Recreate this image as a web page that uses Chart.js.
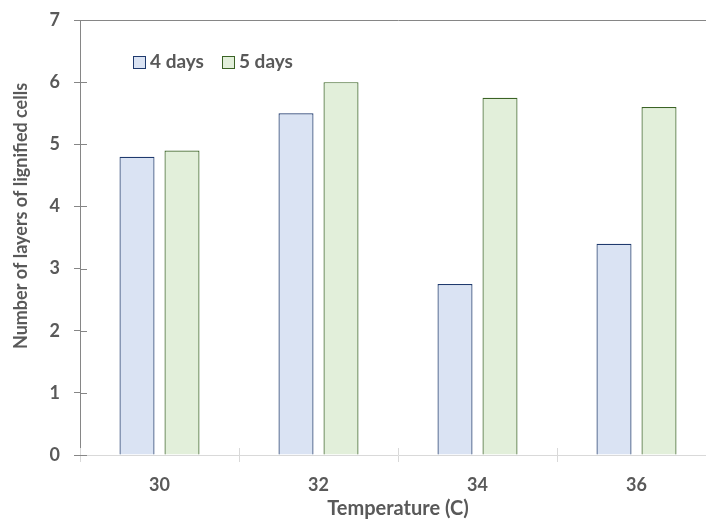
<!DOCTYPE html>
<html>
<head>
<meta charset="utf-8">
<script src="https://cdn.jsdelivr.net/npm/chart.js@4"></script>
<style>
  html, body { margin: 0; padding: 0; background: #fff; overflow: hidden; }
  #wrap { position: relative; width: 720px; height: 521px; }
  #legend { position: absolute; left: 133px; top: 49px; font: bold 19px Lato, sans-serif; color: #595959; }
  #legend span.item { margin-right: 18px; }
  #legend span.box { display: inline-block; width: 11px; height: 11px; margin-right: 4px; vertical-align: -1px; }
</style>
</head>
<body>
<div id="wrap">
  <canvas id="chart" width="720" height="521"></canvas>
  <div id="legend"></div>
</div>
<script>
var categories = ['30', '32', '34', '36'];
var days4 = [4.8, 5.5, 2.75, 3.4];
var days5 = [4.9, 6.0, 5.75, 5.6];
var yTicks = [0, 1, 2, 3, 4, 5, 6, 7];
var yTitle = 'Number of layers of lignified cells';

var textColor = '#595959';
var axisGrey = '#868686';
var lightGrey = '#d9d9d9';

// short tick marks inside the plot area (the Excel "cross" ticks) + y title placed like the original
var extras = {
    id: 'extras',
    afterDatasetsDraw: function(chart){
        var c = chart.ctx, x = chart.scales.x, y = chart.scales.y;
        c.save();
        c.lineWidth = 1;
        c.strokeStyle = axisGrey;
        yTicks.forEach(function(v){
            var py = Math.round(y.getPixelForValue(v)) + 0.5;
            c.beginPath(); c.moveTo(x.left, py); c.lineTo(x.left + 7, py); c.stroke();
        });
        c.strokeStyle = lightGrey;
        for(var i = 0; i <= categories.length; i++){
            var px = Math.round(x.left + i * (x.right - x.left) / categories.length) + 0.5;
            c.beginPath(); c.moveTo(px, y.bottom); c.lineTo(px, y.bottom - 7); c.stroke();
        }
        c.translate(21, 216);
        c.rotate(-Math.PI / 2);
        c.fillStyle = textColor;
        c.font = 'bold 18px Lato';
        c.textAlign = 'center';
        c.textBaseline = 'middle';
        c.fillText(yTitle, 0, 0);
        c.restore();
    }
};

var chart = new Chart(document.getElementById('chart'), {
    type: 'bar',
    data: {
        labels: categories,
        datasets: [{
            label: '4 days',
            data: days4,
            backgroundColor: '#dae3f3',
            borderColor: '#1f3a6e',
            borderWidth: 1.2,
            categoryPercentage: 0.566,
            barPercentage: 0.778
        }, {
            label: '5 days',
            data: days5,
            backgroundColor: '#e2efda',
            borderColor: '#3b6325',
            borderWidth: 1.2,
            categoryPercentage: 0.566,
            barPercentage: 0.778
        }]
    },
    options: {
        responsive: false,
        animation: false,
        layout: { padding: { top: 20, right: 4, left: 0, bottom: 0 } },
        plugins: { legend: { display: false }, tooltip: { enabled: false } },
        scales: {
            x: {
                offset: true,
                grid: { offset: true, drawOnChartArea: false, color: lightGrey, tickLength: 7 },
                border: { color: lightGrey },
                ticks: { color: textColor, font: { family: 'Lato', size: 18, weight: 'bold' }, padding: 12 },
                title: { display: true, text: 'Temperature (C)', color: textColor, font: { family: 'Lato', size: 20, weight: 'bold' }, padding: { top: 2, bottom: 0 } },
                afterFit: function(s){ s.height = 66; }
            },
            y: {
                min: 0, max: 7,
                afterBuildTicks: function(s){ s.ticks = yTicks.map(function(v){ return {value: v}; }); },
                grid: {
                    color: function(ctx){ return ctx.tick && ctx.tick.value === 7 ? axisGrey : 'rgba(0,0,0,0)'; },
                    tickColor: axisGrey,
                    tickLength: 6
                },
                border: { color: axisGrey },
                ticks: { color: textColor, font: { family: 'Lato', size: 18, weight: 'bold' }, padding: 14 },
                afterFit: function(s){ s.width = 80; s.paddingTop = 0; s.paddingBottom = 0; }
            }
        }
    },
    plugins: [extras]
});

// legend sits inside the plot, like the original
var legend = document.getElementById('legend');
chart.data.datasets.forEach(function(ds){
    var item = document.createElement('span');
    item.className = 'item';
    var box = document.createElement('span');
    box.className = 'box';
    box.style.background = ds.backgroundColor;
    box.style.border = '1px solid ' + ds.borderColor;
    item.appendChild(box);
    item.appendChild(document.createTextNode(ds.label));
    legend.appendChild(item);
});
</script>
</body>
</html>
